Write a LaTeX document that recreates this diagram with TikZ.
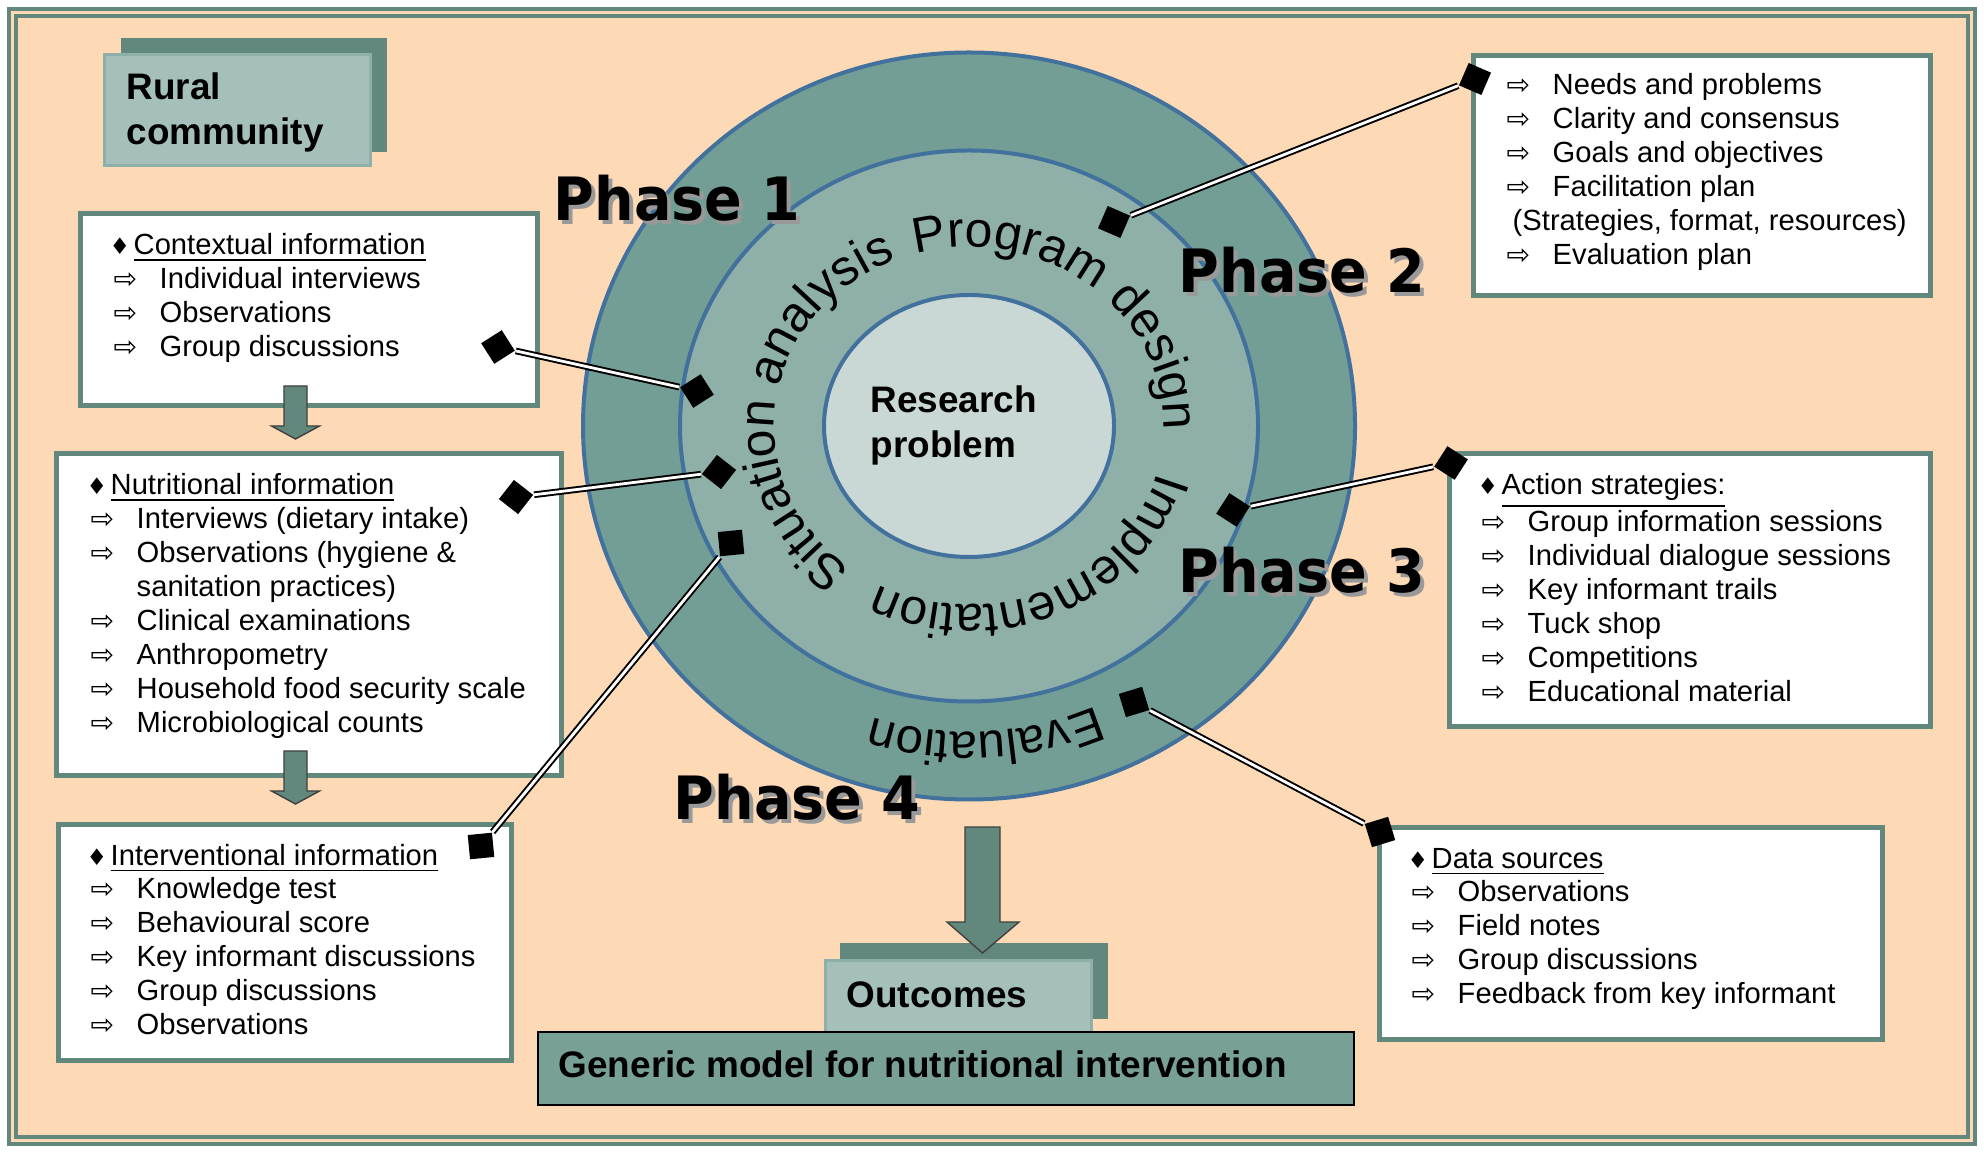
\documentclass[tikz,border=0pt]{standalone}
\usepackage{fontspec}
\setmainfont{Liberation Sans}
\newfontfamily\symfont{DejaVu Sans}
\usetikzlibrary{shapes.geometric,decorations.text}

\definecolor{peach}{HTML}{FDD9B5}
\definecolor{tealdark}{HTML}{62887E}
\definecolor{teallight}{HTML}{A5C0BA}
\definecolor{ringout}{HTML}{739E96}
\definecolor{ringmid}{HTML}{8FB0A9}
\definecolor{ringin}{HTML}{C9D8D5}
\definecolor{ringline}{HTML}{41719C}
\definecolor{modelfill}{HTML}{78A096}

\newcommand\itm[1]{\makebox[0.46cm][l]{\symfont\fontsize{8}{8}\selectfont ⇨}#1}
\newcommand\hdr[1]{\hspace*{-0.04cm}\makebox[0.24cm][l]{\symfont\fontsize{6.5}{7}\selectfont ♦}\underline{#1}}
\newcommand\listing[1]{\begin{tabular}[t]{@{}l@{}}#1\end{tabular}}
\newcommand\ringfont{\fontsize{14.2}{14.2}\selectfont}
\newcommand\evalfont{\fontsize{14}{14}\selectfont}

\tikzset{
	infobox/.style={draw=tealdark,line width=0.05cm,fill=white,inner sep=0pt},
	listtext/.style={anchor=base west,inner sep=0pt,font=\fontsize{8.3}{9.64}\selectfont},
	bigtext/.style={anchor=base west,inner sep=0pt,font=\bfseries\fontsize{10.5}{12.8}\selectfont},
	shadebox/.style={fill=tealdark,inner sep=0pt},
	labelbox/.style={fill=teallight,draw=ringmid,line width=0.03cm,inner sep=0pt},
	knob/.style={diamond,aspect=1,fill=black,inner sep=0pt,minimum size=0.35cm},
	link/.style={draw=black,double=white,double distance=0.8pt,line width=0.55pt},
	ring/.style={draw=ringline,line width=0.04cm},
	phase/.style={font=\symfont\bfseries\fontsize{17}{17}\selectfont,xscale=0.93,inner sep=0pt},
	arrowfill/.style={fill=tealdark,draw=black!75,line width=0.4pt},
	dropper/.pic={\draw[arrowfill] (-0.115,0) -- (-0.115,-0.40) -- (-0.24,-0.40) -- (0,-0.53) -- (0.24,-0.40) -- (0.115,-0.40) -- (0.115,0) -- cycle;}
}

\begin{document}
\begin{tikzpicture}
\fill[white] (0,0) rectangle (19.84,-11.53);
\draw[tealdark,line width=0.04cm,fill=peach] (0.09,-0.09) rectangle (19.75,-11.44);
\draw[tealdark,line width=0.04cm] (0.165,-0.165) rectangle (19.675,-11.365);

\node[shadebox,minimum width=2.66cm,minimum height=1.14cm] (ruralback) at (2.54,-0.95) {};
\node[labelbox,minimum width=2.66cm,minimum height=1.11cm] (rural) at (2.37,-1.105) {};
\node[bigtext] at (1.26,-1.00) {\listing{Rural\\community}};

\node[infobox,minimum width=4.57cm,minimum height=1.92cm] (ctxbox) at (3.09,-3.095) {};
\node[infobox,minimum width=5.05cm,minimum height=3.22cm] (nutbox) at (3.09,-6.145) {};
\node[infobox,minimum width=4.53cm,minimum height=2.36cm] (intbox) at (2.85,-9.425) {};
\node[infobox,minimum width=4.57cm,minimum height=2.40cm] (prgbox) at (17.02,-1.755) {};
\node[infobox,minimum width=4.81cm,minimum height=2.73cm] (actbox) at (16.90,-5.90) {};
\node[infobox,minimum width=5.03cm,minimum height=2.12cm] (datbox) at (16.31,-9.335) {};

\node[listtext] (ctxtext) at (1.13,-2.55) {\listing{\hdr{Contextual information}\\
	\itm{Individual interviews}\\ \itm{Observations}\\ \itm{Group discussions}}};
\node[listtext] (nuttext) at (0.90,-4.95) {\listing{\hdr{Nutritional information}\\
	\itm{Interviews (dietary intake)}\\ \itm{Observations (hygiene \&}\\
	\hspace*{0.46cm}sanitation practices)\\ \itm{Clinical examinations}\\ \itm{Anthropometry}\\
	\itm{Household food security scale}\\ \itm{Microbiological counts}}};
\node[listtext] (inttext) at (0.90,-8.65) {\listing{\hdr{Interventional information}\\
	\itm{Knowledge test}\\ \itm{Behavioural score}\\ \itm{Key informant discussions}\\
	\itm{Group discussions}\\ \itm{Observations}}};
\node[listtext] (prgtext) at (15.06,-0.95) {\listing{\itm{Needs and problems}\\
	\itm{Clarity and consensus}\\ \itm{Goals and objectives}\\ \itm{Facilitation plan}\\
	\hspace*{0.06cm}(Strategies, format, resources)\\ \itm{Evaluation plan}}};
\node[listtext] (acttext) at (14.81,-4.95) {\listing{\hdr{Action strategies:}\\
	\itm{Group information sessions}\\ \itm{Individual dialogue sessions}\\
	\itm{Key informant trails}\\ \itm{Tuck shop}\\ \itm{Competitions}\\ \itm{Educational material}}};
\node[listtext] (dattext) at (14.11,-8.68) {\listing{\hdr{Data sources}\\
	\itm{Observations}\\ \itm{Field notes}\\ \itm{Group discussions}\\ \itm{Feedback from key informant}}};

\pic at (2.955,-3.86) {dropper};
\pic at (2.955,-7.51) {dropper};

\begin{scope}[shift={(9.69,-4.26)}]
	\draw[ring,fill=ringout] (0,0) ellipse [x radius=3.86,y radius=3.735];
	\draw[ring,fill=ringmid] (0,0) ellipse [x radius=2.89,y radius=2.755];
	\draw[ring,fill=ringin] (0,0) ellipse [x radius=1.45,y radius=1.31];
	\path[decorate,decoration={text along path,text align=center,text={|\ringfont|Situation analysis}}]
		(240:1.95 and 1.79) arc[start angle=240,end angle=105,x radius=1.95,y radius=1.79];
	\path[decorate,decoration={text along path,text align=center,text={|\ringfont|Program design}}]
		(113:1.95 and 1.79) arc[start angle=113,end angle=-9,x radius=1.95,y radius=1.79];
	\path[decorate,decoration={text along path,text align=center,text={|\ringfont|Implementation}}]
		(0:1.95 and 1.79) arc[start angle=0,end angle=-132,x radius=1.95,y radius=1.79];
	\path[decorate,decoration={text along path,text align=center,text={|\evalfont|Evaluation}}]
		(-35:3.18 and 3.06) arc[start angle=-35,end angle=-139,x radius=3.18,y radius=3.06];
\end{scope}
\node[bigtext] (hub) at (8.70,-4.13) {\listing{Research\\problem}};

\foreach \x/\y/\n in {6.77/-1.985/1, 13.02/-2.70/2, 13.02/-5.70/3, 7.97/-7.97/4} {
	\node[phase,text=black!40] at (\x+0.04,\y-0.04) {Phase \n};
	\node[phase] (ph\n) at (\x,\y) {Phase \n};
}

\node[knob,rotate=-12.5] (ctxA) at (4.98,-3.47) {};
\node[knob,rotate=-12.5] (ctxB) at (6.97,-3.91) {};
\node[knob,rotate=7] (nutA) at (5.16,-4.97) {};
\node[knob,rotate=7] (nutB) at (7.19,-4.72) {};
\node[knob,rotate=50.5] (intA) at (4.81,-8.46) {};
\node[knob,rotate=50.5] (intB) at (7.31,-5.43) {};
\node[knob,rotate=21.6] (prgA) at (11.14,-2.22) {};
\node[knob,rotate=21.6] (prgB) at (14.75,-0.79) {};
\node[knob,rotate=12.2] (actA) at (12.33,-5.10) {};
\node[knob,rotate=12.2] (actB) at (14.51,-4.63) {};
\node[knob,rotate=-27.9] (datA) at (11.34,-7.02) {};
\node[knob,rotate=-27.9] (datB) at (13.80,-8.32) {};
\draw[link] (ctxA) -- (ctxB);
\draw[link] (nutA) -- (nutB);
\draw[link] (intA) -- (intB);
\draw[link] (prgA) -- (prgB);
\draw[link] (actA) -- (actB);
\draw[link] (datA) -- (datB);

\node[shadebox,minimum width=2.68cm,minimum height=0.76cm] (outback) at (9.74,-9.81) {};
\node[labelbox,minimum width=2.66cm,minimum height=0.73cm] (outcomes) at (9.58,-9.965) {};
\node[bigtext] at (8.46,-10.07) {Outcomes};
\draw[arrowfill] (9.65,-8.27) -- (9.65,-9.22) -- (9.47,-9.22) -- (9.825,-9.53) -- (10.19,-9.22) -- (10.00,-9.22) -- (10.00,-8.27) -- cycle;
\node[fill=modelfill,draw=black,line width=0.4pt,inner sep=0pt,minimum width=8.16cm,minimum height=0.73cm] (model) at (9.46,-10.685) {};
\node[bigtext] at (5.58,-10.77) {Generic model for nutritional intervention};
\end{tikzpicture}
\end{document}
